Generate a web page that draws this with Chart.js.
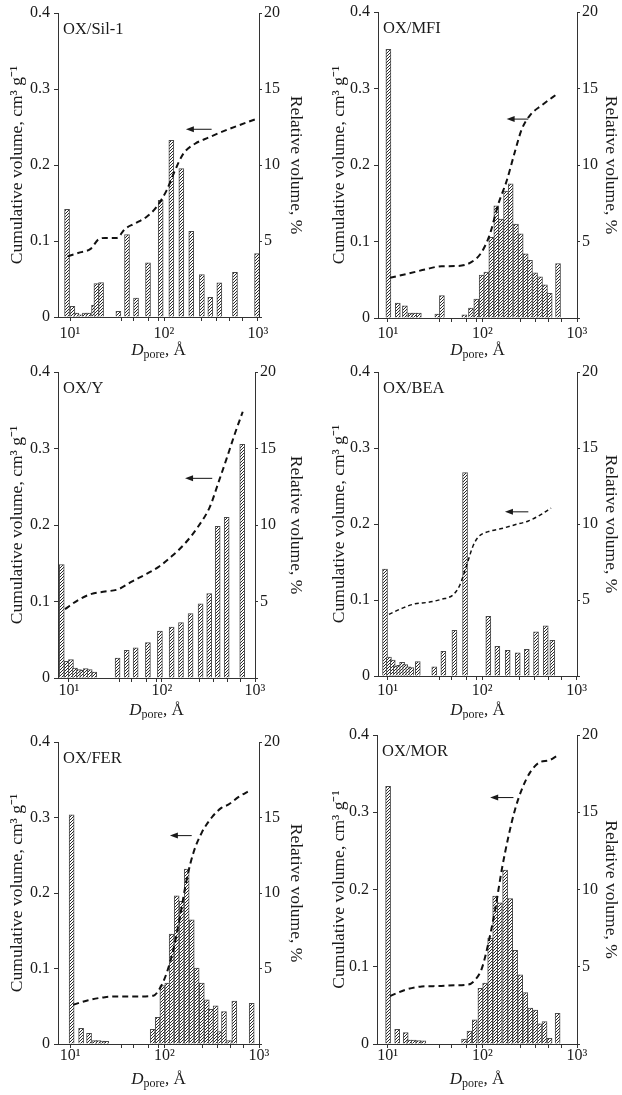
<!DOCTYPE html>
<html><head><meta charset="utf-8">
<script src="https://cdn.jsdelivr.net/npm/chart.js@4.4.1/dist/chart.umd.min.js"></script>
<style>
html,body{margin:0;padding:0;background:#fff;width:622px;height:1095px;overflow:hidden;position:relative}
canvas{position:absolute}
</style></head><body>
<script>
// ---------- tick labels ----------
const xMajorTicks = [10, 100, 1000];
const xMajorLabels = ['10¹', '10²', '10³'];
const xMinorTicks = [35, 47, 68, 87, 250, 360, 500, 690];
const leftTicks = [0, 0.1, 0.2, 0.3, 0.4];
const rightTicks = [0, 5, 10, 15, 20];
const leftTitle = 'Cumulative volume, cm³ g⁻¹';
const rightTitle = 'Relative volume, %';

// ---------- OX/Sil-1 ----------
const sil1BarD = [9.3, 10.6, 11.7, 12.8, 14.4, 15.7, 18.0, 19.1, 21.4, 32.7, 40.4, 50.4, 67.6, 92.2, 119.7, 152.9, 195, 253, 311, 388, 569, 977];
const sil1BarRel = [7.08, 0.70, 0.26, 0.15, 0.26, 0.26, 0.77, 2.2, 2.26, 0.37, 5.42, 1.25, 3.57, 7.68, 11.62, 9.76, 5.64, 2.79, 1.29, 2.24, 2.94, 4.17];
const sil1LineD = [9.46, 12.8, 16.7, 20, 23.6, 31.4, 38.5, 49, 65.5, 83.6, 107, 131, 161, 214, 296, 483, 929];
const sil1LineCum = [0.080, 0.085, 0.090, 0.102, 0.104, 0.104, 0.116, 0.123, 0.132, 0.145, 0.167, 0.193, 0.215, 0.228, 0.236, 0.247, 0.260];
const sil1Arrow = [321, 171, 0.247];

// ---------- OX/MFI ----------
const mfiBarD = [10.1, 12.7, 15.1, 17.4, 19.0, 21.2, 33.3, 37.2, 64.3, 75.5, 86, 98, 109.8, 124, 140, 157, 177.5, 198.7, 226, 253.5, 286, 318, 360, 406, 458, 514, 630];
const mfiBarRel = [17.56, 0.97, 0.80, 0.32, 0.32, 0.32, 0.26, 1.47, 0.2, 0.65, 1.23, 2.8, 3.0, 5.28, 7.33, 6.47, 8.3, 8.77, 6.14, 5.5, 4.2, 3.77, 2.95, 2.69, 2.16, 1.62, 3.56];
const mfiLineD = [10.5, 16.4, 24.6, 37, 55.5, 76.8, 98, 120, 147, 180, 221, 259, 318, 423, 634];
const mfiLineCum = [0.0526, 0.058, 0.0634, 0.0677, 0.068, 0.0733, 0.0862, 0.110, 0.149, 0.179, 0.218, 0.246, 0.265, 0.278, 0.294];
const mfiArrow = [305, 180, 0.26];

// ---------- OX/Y ----------
const yBarD = [8.36, 9.45, 10.5, 11.6, 12.8, 13.9, 15.1, 16.7, 18.7, 33.3, 41.7, 52.1, 70.6, 95, 127, 160, 203, 260, 322, 397, 496, 729];
const yBarRel = [7.42, 1.09, 1.2, 0.65, 0.55, 0.5, 0.61, 0.55, 0.39, 1.31, 1.81, 1.97, 2.31, 3.06, 3.32, 3.62, 4.21, 4.85, 5.52, 9.91, 10.5, 15.28];
const yLineD = [9.06, 12.6, 17.5, 24.4, 33.9, 47.2, 65.6, 91.2, 127, 177, 245, 328, 403, 496, 610, 738];
const yLineCum = [0.090, 0.102, 0.110, 0.113, 0.116, 0.126, 0.135, 0.145, 0.159, 0.176, 0.198, 0.224, 0.255, 0.287, 0.320, 0.348];
const yArrow = [347, 177, 0.261];

// ---------- OX/BEA ----------
const beaBarD = [9.36, 10.3, 11.3, 12.2, 13.2, 14.2, 15.3, 16.5, 17.8, 20.8, 31.1, 38.8, 50.8, 65.8, 116, 144.6, 186, 237.6, 296, 371, 470, 552];
const beaBarRel = [7.03, 1.25, 1.05, 0.65, 0.7, 0.9, 0.75, 0.6, 0.55, 0.95, 0.6, 1.63, 3.01, 13.38, 3.93, 1.96, 1.69, 1.52, 1.76, 2.9, 3.3, 2.35];
const beaLineD = [10.3, 14.1, 19.5, 26.9, 37.2, 49.4, 58.2, 68.5, 80.5, 91, 116, 160.6, 222, 307.6, 426, 535];
const beaLineCum = [0.081, 0.089, 0.095, 0.097, 0.101, 0.107, 0.120, 0.146, 0.172, 0.183, 0.190, 0.194, 0.199, 0.204, 0.213, 0.221];
const beaArrow = [307.6, 174, 0.216];

// ---------- OX/FER ----------
const ferBarD = [10.4, 13.1, 15.9, 18.1, 20.0, 22.0, 24.2, 75, 84.7, 94.9, 107, 119, 134.5, 152, 171.7, 194, 219, 248, 280, 310, 347.5, 386, 426, 482, 548, 837];
const ferBarRel = [15.18, 1.04, 0.71, 0.22, 0.22, 0.2, 0.18, 0.97, 1.77, 3.87, 4.03, 7.28, 9.82, 9.45, 11.59, 8.23, 5.02, 4.03, 2.92, 2.3, 2.52, 0.82, 2.15, 0.22, 2.85, 2.7];
const ferLineD = [10.8, 15.6, 23.4, 35.2, 52.8, 76.2, 89.6, 105.4, 124, 146, 171.7, 202, 248, 316, 403, 473, 604, 804];
const ferLineCum = [0.052, 0.058, 0.062, 0.063, 0.063, 0.064, 0.074, 0.094, 0.125, 0.169, 0.218, 0.253, 0.280, 0.300, 0.313, 0.317, 0.327, 0.336];
const ferArrow = [194, 114, 0.276];

// ---------- OX/MOR ----------
const morBarD = [10.1, 12.6, 15.5, 16.9, 18.8, 21.1, 23.8, 64.1, 73.1, 83.2, 95.4, 107, 121, 136.6, 153, 174, 196.7, 222, 251, 284, 321, 362, 402, 454, 513, 624];
const morBarRel = [16.67, 0.95, 0.74, 0.26, 0.26, 0.22, 0.2, 0.32, 0.84, 1.56, 3.61, 3.94, 6.86, 9.57, 9.13, 11.26, 9.42, 6.06, 4.48, 3.33, 2.32, 2.2, 1.3, 1.45, 0.37, 1.99];
const morLineD = [10.6, 15.2, 22.9, 34.3, 51.5, 71.3, 83.9, 98.8, 116, 136.6, 160.6, 189, 222, 262, 321, 409, 501, 614];
const morLineCum = [0.062, 0.070, 0.0745, 0.075, 0.076, 0.077, 0.083, 0.098, 0.131, 0.174, 0.226, 0.269, 0.304, 0.330, 0.352, 0.365, 0.367, 0.373];
const morArrow = [213, 121, 0.319];

// ---------- layout (canvas box and plot area, page pixels) ----------
const FONT = "'Liberation Serif', 'Times New Roman', serif";
const TITLE_SIZE = 17.5;
const panels = [
  {name:'OX/Sil-1', bx:sil1BarD, by:sil1BarRel, lx:sil1LineD, ly:sil1LineCum, arrow:sil1Arrow,
   box:[0,0,311,362], area:{l:58,r:259,t:13,b:317}, xmin:7.45, xmax:1025, lt:17, rt:15, xlab:335, xtit:351, dash:[6,4], lw:2},
  {name:'OX/MFI', bx:mfiBarD, by:mfiBarRel, lx:mfiLineD, ly:mfiLineCum, arrow:mfiArrow,
   box:[311,0,311,362], area:{l:378,r:577,t:9,b:318}, xmin:7.84, xmax:1000, lt:28, rt:11, xlab:335, xtit:351, dash:[6,4], lw:2},
  {name:'OX/Y', bx:yBarD, by:yBarRel, lx:yLineD, ly:yLineCum, arrow:yArrow,
   box:[0,358,311,362], area:{l:58,r:255,t:372,b:678}, xmin:7.62, xmax:1000, lt:17, rt:15, xlab:692, xtit:711, dash:[6,4], lw:2},
  {name:'OX/BEA', bx:beaBarD, by:beaBarRel, lx:beaLineD, ly:beaLineCum, arrow:beaArrow,
   box:[311,358,311,362], area:{l:378,r:577,t:372,b:676}, xmin:7.89, xmax:1007, lt:28, rt:11, xlab:692, xtit:711, dash:[4,3], lw:1.5},
  {name:'OX/FER', bx:ferBarD, by:ferBarRel, lx:ferLineD, ly:ferLineCum, arrow:ferArrow,
   box:[0,722,311,373], area:{l:58,r:259,t:742,b:1044}, xmin:7.46, xmax:1000, lt:17, rt:15, xlab:1055, xtit:1080, dash:[6,4], lw:2},
  {name:'OX/MOR', bx:morBarD, by:morBarRel, lx:morLineD, ly:morLineCum, arrow:morArrow,
   box:[311,722,311,373], area:{l:377,r:577,t:735,b:1044}, xmin:7.71, xmax:1000, lt:28, rt:11, xlab:1055, xtit:1080, dash:[6,4], lw:2}
];

// hatch pattern
const pc = document.createElement('canvas'); pc.width = 3; pc.height = 3;
const pg = pc.getContext('2d');
pg.fillStyle = '#fff'; pg.fillRect(0,0,3,3);
pg.strokeStyle = '#111'; pg.lineWidth = 0.9;
pg.beginPath(); pg.moveTo(0,3); pg.lineTo(3,0); pg.moveTo(-1,1); pg.lineTo(1,-1); pg.moveTo(2,4); pg.lineTo(4,2); pg.stroke();
const hatch = pg.createPattern(pc, 'repeat');

const AX = '#333', TXT = '#1a1a1a';
const allXTicks = xMajorTicks.concat(xMinorTicks).sort((a,b)=>a-b);

function makePanel(p) {
  const [bx0, by0, bw, bh] = p.box;
  const cv = document.createElement('canvas');
  cv.width = bw; cv.height = bh;
  cv.style.left = bx0 + 'px'; cv.style.top = by0 + 'px';
  cv.style.width = bw + 'px'; cv.style.height = bh + 'px';
  document.body.appendChild(cv);
  const padTop = p.area.t - by0;
  const lW = p.area.l - bx0;
  const rW = bx0 + bw - p.area.r;
  const xH = by0 + bh - p.area.b;
  const lh = TITLE_SIZE * 1.2;
  const xPad = Math.max(0, (p.xlab - p.area.b) - 4 - 9);

  const deco = {
    id: 'deco',
    afterDraw(chart) {
      const {ctx, chartArea: ca, scales} = chart;
      ctx.save();
      ctx.fillStyle = TXT;
      ctx.font = '16.5px ' + FONT;
      ctx.textBaseline = 'alphabetic';
      ctx.textAlign = 'left';
      ctx.fillText(p.name, ca.left + 5, ca.top + 21);
      // arrow
      const x1 = scales.x.getPixelForValue(p.arrow[0]);
      const x2 = scales.x.getPixelForValue(p.arrow[1]);
      const ya = scales.yL.getPixelForValue(p.arrow[2]);
      ctx.strokeStyle = '#111'; ctx.lineWidth = 1;
      ctx.beginPath(); ctx.moveTo(x1, ya); ctx.lineTo(x2 + 4, ya); ctx.stroke();
      ctx.beginPath(); ctx.moveTo(x2, ya); ctx.lineTo(x2 + 8, ya - 3); ctx.lineTo(x2 + 8, ya + 3); ctx.closePath(); ctx.fill();
      // x title: D_pore, Å
      const cy = p.xtit - by0;
      const parts = [
        {t:'D', f:'italic 17px ' + FONT, dy:0},
        {t:'pore', f:'12px ' + FONT, dy:4},
        {t:', Å', f:'17px ' + FONT, dy:0}
      ];
      let tw = 0;
      parts.forEach(s => { ctx.font = s.f; s.w = ctx.measureText(s.t).width; tw += s.w; });
      let x = (ca.left + ca.right) / 2 - tw / 2;
      ctx.textBaseline = 'middle';
      parts.forEach(s => { ctx.font = s.f; ctx.fillText(s.t, x, cy + s.dy); x += s.w; });
      ctx.restore();
    }
  };

  new Chart(cv, {
    type: 'bar',
    data: {
      datasets: [
        {type:'line', label:'Cumulative volume', data: p.lx.map((v,i)=>({x:v, y:p.ly[i]})), xAxisID:'x', yAxisID:'yL',
         borderColor:'#111', borderWidth:p.lw, borderDash:p.dash, pointRadius:0, fill:false, tension:0.4,
         cubicInterpolationMode:'monotone', order:0},
        {type:'bar', label:'Relative volume', data: p.bx.map((v,i)=>({x:v, y:p.by[i]})), xAxisID:'x', yAxisID:'yR',
         backgroundColor:hatch, borderColor:'#4a4a4a', borderWidth:1, barThickness:5, order:1}
      ]
    },
    options: {
      responsive:false, animation:false, devicePixelRatio:1,
      layout:{padding:{top:padTop, left:0, right:0, bottom:0}},
      plugins:{legend:{display:false}, tooltip:{enabled:false}},
      scales: {
        x: {type:'logarithmic', position:'bottom', min:p.xmin, max:p.xmax, offset:false,
            afterBuildTicks: s => { s.ticks = allXTicks.map(v => ({value:v, major: xMajorTicks.includes(v)})); },
            afterFit: s => { s.height = xH; },
            ticks:{autoSkip:false, maxRotation:0, minRotation:0, padding:xPad, color:TXT,
                   font:{family:FONT, size:16, lineHeight:1},
                   callback: v => { const i = xMajorTicks.indexOf(v); return i >= 0 ? xMajorLabels[i] : ''; }},
            grid:{display:true, drawOnChartArea:false, drawTicks:true, tickLength:4, color:AX, offset:false},
            border:{display:true, color:AX, width:1}},
        yL: {type:'linear', position:'left', min:0, max:0.4,
            afterBuildTicks: s => { s.ticks = leftTicks.map(v => ({value:v})); },
            afterFit: s => { s.width = lW; },
            ticks:{padding:4, color:TXT, font:{family:FONT, size:16, lineHeight:1},
                   callback: v => v === 0 ? '0' : v.toFixed(1)},
            grid:{display:true, drawOnChartArea:false, drawTicks:true, tickLength:4, color:AX},
            border:{display:true, color:AX, width:1},
            title:{display:true, text:leftTitle, color:TXT, font:{family:FONT, size:TITLE_SIZE}, padding:{top:p.lt - lh/2, bottom:0}}},
        yR: {type:'linear', position:'right', min:0, max:20,
            afterBuildTicks: s => { s.ticks = rightTicks.map(v => ({value:v})); },
            afterFit: s => { s.width = rW; },
            ticks:{padding:2, color:TXT, font:{family:FONT, size:16, lineHeight:1},
                   callback: v => v === 0 ? '' : String(v)},
            grid:{display:true, drawOnChartArea:false, drawTicks:true, tickLength:3, color:AX},
            border:{display:true, color:AX, width:1},
            title:{display:true, text:rightTitle, color:TXT, font:{family:FONT, size:TITLE_SIZE}, padding:{top:Math.max(0, p.rt - lh/2), bottom:0}}}
      }
    },
    plugins:[deco]
  });
}
panels.forEach(makePanel);
</script>
</body></html>
